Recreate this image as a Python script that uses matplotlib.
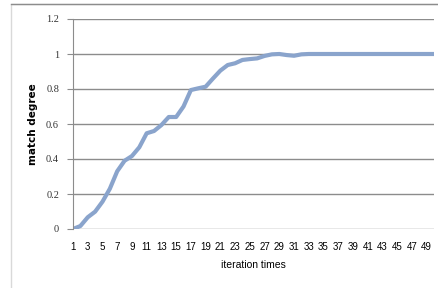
import matplotlib.pyplot as plt
from matplotlib.patches import Rectangle

iterations = list(range(1, 51))
match_degree = [
    0.0, 0.017, 0.067, 0.099, 0.156, 0.23, 0.33, 0.39, 0.417, 0.467,
    0.547, 0.56, 0.594, 0.64, 0.64, 0.70, 0.794, 0.804, 0.813, 0.86,
    0.905, 0.937, 0.947, 0.966, 0.971, 0.975, 0.989, 0.998, 1.0, 0.994,
    0.99, 0.998, 1.0, 1.0, 1.0, 1.0, 1.0, 1.0, 1.0, 1.0,
    1.0, 1.0, 1.0, 1.0, 1.0, 1.0, 1.0, 1.0, 1.0, 1.0,
]
x_ticks = list(range(1, 50, 2))
y_ticks = [0, 0.2, 0.4, 0.6, 0.8, 1, 1.2]
y_tick_labels = ["0", "0.2", "0.4", "0.6", "0.8", "1", "1.2"]

fig = plt.figure(figsize=(4.39, 2.88), dpi=100)
fig.patches.append(Rectangle((11 / 439, -0.1), 1.2, (288 - 4) / 288 + 0.1,
                             transform=fig.transFigure, fill=False,
                             edgecolor="#d9d9d9", linewidth=1))
fig.lines.append(plt.Line2D([11 / 439, 1], [284 / 288, 284 / 288],
                            transform=fig.transFigure, color="#8c8c8c", linewidth=1))

ax = fig.add_axes([73 / 439, 59 / 288, 361 / 439, 210 / 288])
ax.plot(iterations, match_degree, color="#8aa4cc", linewidth=3, solid_capstyle="butt")

ax.set_xlim(1, 50)
ax.set_ylim(0, 1.2)
ax.set_xticks(x_ticks)
ax.set_xticklabels([str(t) for t in x_ticks], fontsize=7, family="Liberation Sans")
ax.set_yticks(y_ticks)
ax.set_yticklabels(y_tick_labels, fontsize=7.5, family="Liberation Serif", color="#333333")
ax.tick_params(axis="x", length=0, pad=9)
ax.tick_params(axis="y", length=4, color="#8c8c8c", pad=6)
ax.grid(axis="y", color="#8c8c8c", linewidth=1)
ax.set_axisbelow(True)
for s in ["top", "right", "bottom"]:
    ax.spines[s].set_visible(False)
ax.spines["left"].set_color("#8c8c8c")

ax.set_xlabel("iteration times", fontsize=7.5, family="Liberation Sans", labelpad=6)
ax.set_ylabel("match degree", fontsize=7.5, fontweight="bold", family="DejaVu Sans", labelpad=6)

fig.savefig("out.png", dpi=100)
